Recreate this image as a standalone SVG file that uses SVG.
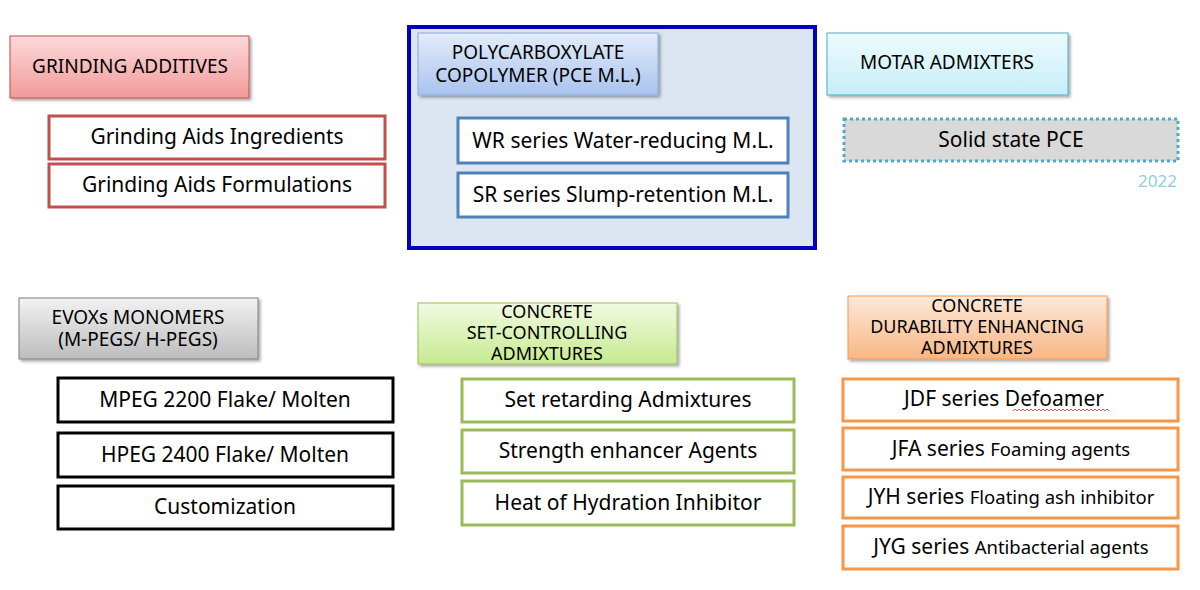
<svg xmlns="http://www.w3.org/2000/svg" width="1200" height="590" viewBox="0 0 1200 590">
<defs>
<linearGradient id="gRed" x1="0" y1="0" x2="0" y2="1"><stop offset="0" stop-color="#fcdada"/><stop offset="1" stop-color="#f29a9a"/></linearGradient>
<linearGradient id="gBlue" x1="0" y1="0" x2="0" y2="1"><stop offset="0" stop-color="#e3ecfa"/><stop offset="1" stop-color="#a9c3ee"/></linearGradient>
<linearGradient id="gCyan" x1="0" y1="0" x2="0" y2="1"><stop offset="0" stop-color="#eefbfe"/><stop offset="1" stop-color="#c5eef8"/></linearGradient>
<linearGradient id="gGray" x1="0" y1="0" x2="0" y2="1"><stop offset="0" stop-color="#f2f2f2"/><stop offset="1" stop-color="#bdbdbd"/></linearGradient>
<linearGradient id="gGreen" x1="0" y1="0" x2="0" y2="1"><stop offset="0" stop-color="#f1fae2"/><stop offset="1" stop-color="#c6ea8f"/></linearGradient>
<linearGradient id="gOrange" x1="0" y1="0" x2="0" y2="1"><stop offset="0" stop-color="#fde9d9"/><stop offset="1" stop-color="#f8b786"/></linearGradient>
<filter id="sh" x="-5%" y="-10%" width="115%" height="130%"><feDropShadow dx="2" dy="2" stdDeviation="1.5" flood-color="#000" flood-opacity="0.35"/></filter>
</defs>
<style>
text{font-family:"Noto Sans","Open Sans","Liberation Sans",sans-serif;fill:#000;text-anchor:middle}
.h{font-size:19px}
.h3{font-size:18px}
.i{font-size:21px}
.s{font-size:18.5px}
.box{fill:#fff;stroke-width:3}
</style>
<rect width="1200" height="590" fill="#fff"/>
<g id="grinding-additives"><rect x="10" y="36" width="239" height="62" fill="url(#gRed)" stroke="#c0504d" stroke-width="1" filter="url(#sh)"/><text class="h" x="130" y="73">GRINDING ADDITIVES</text></g>
<g id="grinding-ingredients"><rect class="box" x="49" y="116" width="336" height="43" stroke="#c0504d"/><text class="i" x="217" y="144">Grinding Aids Ingredients</text></g>
<g id="grinding-formulations"><rect class="box" x="49" y="164" width="336" height="43" stroke="#c0504d"/><text class="i" x="217" y="192">Grinding Aids Formulations</text></g>
<g id="pce-group"><rect x="409" y="27" width="406" height="221" fill="#dce6f2" stroke="#0000c0" stroke-width="4"/></g>
<g id="pce-header"><rect x="418" y="33" width="240" height="62" fill="url(#gBlue)" stroke="#8eaadb" stroke-width="1" filter="url(#sh)"/><text class="h" x="538" y="59">POLYCARBOXYLATE</text><text class="h" x="538" y="82">COPOLYMER (PCE M.L.)</text></g>
<g id="wr"><rect class="box" x="458" y="118" width="330" height="45" stroke="#4f81bd"/><text class="i" x="623" y="148">WR series Water-reducing M.L.</text></g>
<g id="sr"><rect class="box" x="458" y="173" width="330" height="44" stroke="#4f81bd"/><text class="i" x="623" y="202">SR series Slump-retention M.L.</text></g>
<g id="motar"><rect x="827" y="33" width="241" height="62" fill="url(#gCyan)" stroke="#4bacc6" stroke-width="1" filter="url(#sh)"/><text class="h" x="947" y="69">MOTAR ADMIXTERS</text></g>
<g id="solid-pce"><rect x="844" y="119" width="334" height="42" fill="#d9d9d9" stroke="#4bacc6" stroke-width="3" stroke-dasharray="3,3"/><text class="i" x="1011" y="147">Solid state PCE</text><text x="1177" y="187" style="font-size:17px;fill:#92cddc;text-anchor:end">2022</text></g>
<g id="evox"><rect x="19" y="298" width="239" height="61" fill="url(#gGray)" stroke="#7f7f7f" stroke-width="1" filter="url(#sh)"/><text class="h" x="138" y="324">EVOXs MONOMERS</text><text class="h" x="138" y="346">(M-PEGS/ H-PEGS)</text></g>
<g id="mpeg"><rect class="box" x="58" y="378" width="335" height="44" stroke="#000"/><text class="i" x="225" y="407">MPEG 2200 Flake/ Molten</text></g>
<g id="hpeg"><rect class="box" x="58" y="433" width="335" height="44" stroke="#000"/><text class="i" x="225" y="462">HPEG 2400 Flake/ Molten</text></g>
<g id="custom"><rect class="box" x="58" y="486" width="335" height="43" stroke="#000"/><text class="i" x="225" y="514">Customization</text></g>
<g id="set-header"><rect x="418" y="303" width="259" height="61" fill="url(#gGreen)" stroke="#9bbb59" stroke-width="1" filter="url(#sh)"/><text class="h3" x="547" y="318">CONCRETE</text><text class="h3" x="547" y="339">SET-CONTROLLING</text><text class="h3" x="547" y="360">ADMIXTURES</text></g>
<g id="set-retarding"><rect class="box" x="462" y="379" width="332" height="43" stroke="#9bbb59"/><text class="i" x="628" y="407">Set retarding Admixtures</text></g>
<g id="strength"><rect class="box" x="462" y="430" width="332" height="43" stroke="#9bbb59"/><text class="i" x="628" y="458">Strength enhancer Agents</text></g>
<g id="heat"><rect class="box" x="462" y="481" width="332" height="44" stroke="#9bbb59"/><text class="i" x="628" y="510">Heat of Hydration Inhibitor</text></g>
<g id="dur-header"><rect x="848" y="296" width="259" height="63" fill="url(#gOrange)" stroke="#f79646" stroke-width="1" filter="url(#sh)"/><text class="h3" x="977" y="312">CONCRETE</text><text class="h3" x="977" y="333">DURABILITY ENHANCING</text><text class="h3" x="977" y="354">ADMIXTURES</text></g>
<g id="jdf"><rect class="box" x="843" y="379" width="335" height="42" stroke="#f79646"/><text class="i" x="1004" y="406">JDF series Defoamer</text><path d="M1013 411 l2 -2 l2 2 l2 -2 l2 2 l2 -2 l2 2 l2 -2 l2 2 l2 -2 l2 2 l2 -2 l2 2 l2 -2 l2 2 l2 -2 l2 2 l2 -2 l2 2 l2 -2 l2 2 l2 -2 l2 2 l2 -2 l2 2 l2 -2 l2 2 l2 -2 l2 2 l2 -2 l2 2 l2 -2 l2 2 l2 -2 l2 2 l2 -2 l2 2 l2 -2 l2 2 l2 -2 l2 2 l2 -2 l2 2 l2 -2 l2 2 l2 -2 l2 2 l2 -2 l2 2" fill="none" stroke="#e03030" stroke-width="0.8"/></g>
<g id="jfa"><rect class="box" x="843" y="428" width="335" height="42" stroke="#f79646"/><text class="i" x="1011" y="456">JFA series <tspan class="s">Foaming agents</tspan></text></g>
<g id="jyh"><rect class="box" x="843" y="477" width="335" height="41" stroke="#f79646"/><text class="i" x="1011" y="504">JYH series <tspan class="s">Floating ash inhibitor</tspan></text></g>
<g id="jyg"><rect class="box" x="843" y="526" width="335" height="43" stroke="#f79646"/><text class="i" x="1011" y="554">JYG series <tspan class="s">Antibacterial agents</tspan></text></g>
<g id="connectors"/>
</svg>
